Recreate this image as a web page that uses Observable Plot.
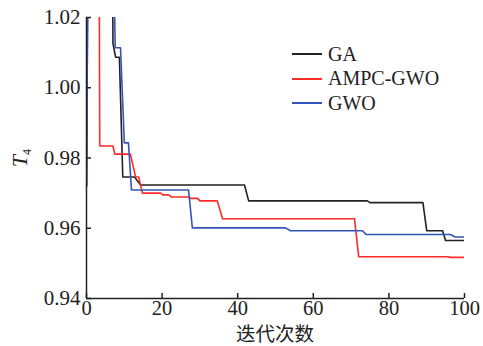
<!DOCTYPE html>
<html>
<head>
<meta charset="utf-8">
<script src="https://cdn.jsdelivr.net/npm/d3@7"></script>
<script src="https://cdn.jsdelivr.net/npm/@observablehq/plot@0.6"></script>
<style>
  body { margin: 0; background: #fff; }
  #wrap { position: relative; width: 483px; height: 346px; }
  .leg { position: absolute; left: 292px; font-family: "Liberation Serif", serif; font-size: 20px; color: #222; }
  .leg .row { display: flex; align-items: center; height: 24.5px; }
  .leg .sw { width: 30px; height: 2px; margin-right: 6px; }
  #xlab { position: absolute; left: 0; width: 483px; text-align: center; top: 323px; height: 20px; line-height: 20px; padding-left: 86px; box-sizing: border-box; padding-right: 19px;
          font-family: "Noto Sans CJK SC", sans-serif; font-size: 19.5px; color: #222; }
</style>
</head>
<body>
<div id="wrap"></div>
<script>
const seriesNames = ["GA", "AMPC-GWO", "GWO"];
const seriesColors = ["#222222", "#ff2a2a", "#3355bb"];

const gaX = [0, 0.5, 6.8, 7.0, 7.7, 8.7, 9.6, 12.7, 14.3, 41.8, 42.9, 74.3, 75, 89, 90, 94.2, 95, 100];
const gaY = [0.972, 1.06, 1.06, 1.0126, 1.0087, 1.0087, 0.9746, 0.9746, 0.9723, 0.9723, 0.9678, 0.9678, 0.9673, 0.9673, 0.9593, 0.9593, 0.9565, 0.9565];

const ampcX = [0, 0.3, 3.3, 3.5, 7.0, 7.5, 11.6, 13.0, 13.8, 14.8, 19.6, 20.2, 21.7, 22.5, 27, 27.5, 29.4, 30, 34.6, 36, 70.9, 72, 95.5, 96.5, 100];
const ampcY = [0.972, 1.06, 1.06, 0.9834, 0.9834, 0.9811, 0.9811, 0.9746, 0.9746, 0.970, 0.970, 0.9695, 0.9695, 0.9689, 0.9689, 0.9685, 0.9685, 0.9678, 0.9678, 0.9627, 0.9627, 0.9519, 0.9519, 0.9517, 0.9517];

const gwoX = [0, 0.5, 6.8, 7.6, 9.0, 10.0, 11.1, 11.9, 27, 28, 52.6, 54, 73, 74, 96.3, 97.5, 100];
const gwoY = [0.972, 1.06, 1.06, 1.0114, 1.0114, 0.9843, 0.9843, 0.9709, 0.9709, 0.9601, 0.9601, 0.9593, 0.9593, 0.9582, 0.9582, 0.9575, 0.9575];

const xTicks = [0, 20, 40, 60, 80, 100];
const yTicks = [0.94, 0.96, 0.98, 1.00, 1.02];

const toRows = (xs, ys, s) => xs.map((x, i) => ({x, y: ys[i], s}));
const rows = [
  ...toRows(gaX, gaY, seriesNames[0]),
  ...toRows(ampcX, ampcY, seriesNames[1]),
  ...toRows(gwoX, gwoY, seriesNames[2])
];

const chart = Plot.plot({
  width: 483,
  height: 346,
  marginLeft: 86,
  marginRight: 19,
  marginTop: 17,
  marginBottom: 48,
  style: {fontFamily: "Liberation Serif, serif", fontSize: "21px", color: "#222", background: "#fff"},
  x: {domain: [0, 100]},
  y: {domain: [0.94, 1.02]},
  color: {domain: seriesNames, range: seriesColors},
  marks: [
    Plot.line(rows, {x: "x", y: "y", z: "s", stroke: "s", strokeWidth: 1.6, clip: true}),
    Plot.axisX({ticks: xTicks, tickSize: 0, tickPadding: 2, fontSize: 20.5, label: null, tickFormat: d3.format("d")}),
    Plot.axisX({ticks: xTicks, tickSize: 5, dy: -5, text: null, label: null, strokeWidth: 1.5}),
    Plot.axisY({ticks: yTicks, tickSize: 0, tickPadding: 6, label: null, tickFormat: d3.format(".2f")}),
    Plot.axisY({ticks: yTicks, tickSize: 5, dx: 5, text: null, label: null, strokeWidth: 1.5}),
    Plot.ruleX([0], {stroke: "#222", strokeWidth: 1.5}),
    Plot.ruleY([0.94], {stroke: "#222", strokeWidth: 1.5})
  ]
});

const wrap = document.getElementById("wrap");
wrap.appendChild(chart);

// y label T4
const svg = d3.select(chart);
const yl = svg.append("text")
  .attr("transform", "translate(27,158) rotate(-90)")
  .attr("text-anchor", "middle")
  .attr("font-family", "Liberation Serif, serif")
  .attr("font-size", 22)
  .attr("fill", "#222");
yl.append("tspan").attr("font-style", "italic").text("T");
yl.append("tspan").attr("font-size", 12).attr("dy", 4).text("4");

// legend
const leg = document.createElement("div");
leg.className = "leg";
leg.style.top = "42px";
seriesNames.forEach((n, i) => {
  const r = document.createElement("div");
  r.className = "row";
  const sw = document.createElement("div");
  sw.className = "sw";
  sw.style.background = seriesColors[i];
  const t = document.createElement("span");
  t.textContent = n;
  r.appendChild(sw); r.appendChild(t);
  leg.appendChild(r);
});
wrap.appendChild(leg);

const xl = document.createElement("div");
xl.id = "xlab";
xl.textContent = "迭代次数";
wrap.appendChild(xl);
</script>
</body>
</html>
